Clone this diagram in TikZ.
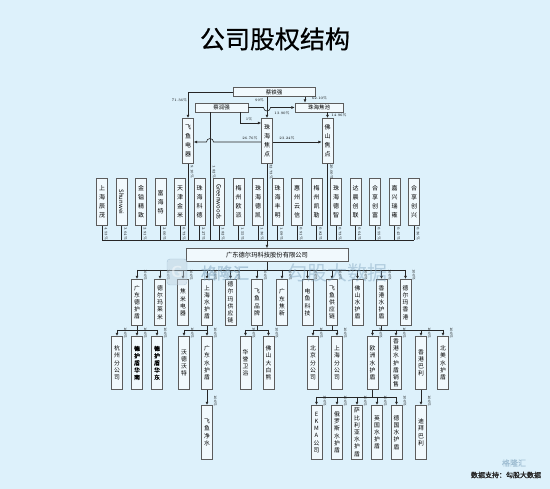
\documentclass[tikz,border=0pt]{standalone}
\usepackage{fontspec}
\newfontfamily\cjk{Noto Sans CJK SC}
\newfontfamily\cjkb[FakeBold=1.5]{Noto Sans CJK SC}
\newfontfamily\cjkt[FakeBold=0.6]{Noto Sans CJK SC}
\usetikzlibrary{arrows.meta,positioning,calc}
\definecolor{pagebg}{HTML}{DDF1FB}
\definecolor{boxbg}{HTML}{F1F9FD}
\definecolor{boxline}{HTML}{5C5C5C}
\definecolor{wmark}{HTML}{7FA3BD}

\begin{document}
\begin{tikzpicture}[x=1pt,y=-1pt,
  hbox/.style={draw=boxline,fill=boxbg,line width=0.8pt,inner sep=0pt,minimum height=9pt,font=\cjk\fontsize{5.5}{6}\selectfont},
  vbox/.style={draw=boxline,fill=boxbg,line width=0.8pt,inner sep=0.5pt,minimum width=11pt,anchor=north,align=center,font=\cjk\fontsize{5.8}{7.2}\selectfont},
  pct/.style={font=\fontsize{3.6}{4}\selectfont,inner sep=0pt},
  vpct/.style={pct,rotate=-90},
  link/.style={draw=black!85,line width=0.6pt},
  arr/.style={link,-{Latex[length=3.2pt,width=3pt]}}]
\path[use as bounding box,fill=pagebg] (0,0) rectangle (550,489);

\node[font=\cjkt\fontsize{25}{25}\selectfont] (title) at (275,39) {公司股权结构};

% top holders
\node[hbox,minimum width=82pt] (ctq) at (274,92) {蔡铁强};
\node[hbox,minimum width=53pt] (crq) at (221.5,107.5) {蔡润强};
\node[hbox,minimum width=48pt] (zhjc) at (319,107.5) {珠海焦池};
\node[vbox,minimum height=45pt,font=\cjk\fontsize{6}{9}\selectfont] (fydq) at (188,118) {飞\\鱼\\电\\器};
\node[vbox,minimum height=45pt,font=\cjk\fontsize{6}{9}\selectfont] (zhjd) at (267,118) {珠\\海\\焦\\点};
\node[vbox,minimum height=45pt,font=\cjk\fontsize{6}{9}\selectfont] (fsjd) at (327.5,118) {佛\\山\\焦\\点};
\coordinate (crqdrop) at ($(crq.south)+(-11.5,0)$);
\coordinate (mid) at ($(zhjd.north west)+(0,24)$);
\coordinate (c62) at ($(zhjc.north)+(-14,0)$);

\draw[arr] (ctq.west) -| (fydq.north);
\node[pct] (l1) at (179.5,100) {71.36\%};
\draw[arr] (ctq.south -| zhjd.north) -- (zhjd.north);
\node[pct] (l2) at (259.5,100) {99\%};
\draw[arr] (c62 |- ctq.south) -- (c62);
\node[pct] (l3) at (319.5,98) {62.10\%};
\draw[arr] (crq.east) -- ($(crq.east -| zhjd.north)+(-3.5,0)$) arc[start angle=180,end angle=0,radius=3.5] -- (zhjc.west);
\node[pct] (l4) at (282,113) {13.90\%};
\draw[arr] ($(crq.south)+(18.5,0)$) |- ($(zhjd.north west)+(0,5)$);
\node[pct] (l5) at (249,119) {1\%};
\draw[arr] (mid) -- ($(mid -| crqdrop)+(3.5,0)$) arc[start angle=0,end angle=-180,radius=3.5] -- (mid -| fydq.east);
\node[pct] (l6) at (250,138) {26.76\%};
\draw[arr] (mid -| zhjd.east) -- (mid -| fsjd.west);
\node[pct] (l7) at (287,138) {23.24\%};
\draw[arr] (zhjc.south -| fsjd.north) -- (fsjd.north);
\node[pct] (l8) at (339,115) {14.96\%};

% shareholders of the company
\coordinate (bus1) at (0,240);
\foreach \txt/\val [count=\k] in {{上\\海\\辰\\茂}/4.53\%,{\rotatebox{-90}{Shunwei}}/3.64\%,{金\\镒\\精\\致}/2.91\%,{富\\海\\特}/2.00\%,
    {天\\津\\金\\米}/6.73\%,{珠\\海\\科\\德}/2.27\%,{\rotatebox{-90}{Greenwoods}}/1.82\%,{梅\\州\\欧\\派}/1.55\%,
    {珠\\海\\德\\凯}/1.36\%,{珠\\海\\丰\\明}/1.09\%,{惠\\州\\云\\信}/0.91\%,{梅\\州\\凯\\勒}/0.82\%,
    {珠\\海\\德\\智}/0.73\%,{达\\晨\\创\\联}/0.64\%,{合\\享\\创\\富}/0.55\%,{嘉\\兴\\瑞\\雍}/0.45\%,{合\\享\\创\\兴}/0.36\%}{
  \node[vbox,minimum height=47pt,font=\cjk\fontsize{6}{9}\selectfont] (sh\k) at ({102+19.5*(\k-1)},178) {\txt};
  \draw[link] (sh\k.south) -- (sh\k.south |- bus1);
  \node[vpct] at ($(sh\k.south)+(4,8)$) {\val};
}
\draw[link] (sh1.south |- bus1) -- (sh17.south |- bus1);
\draw[link] (fydq.south) -- (fydq.south |- bus1);
\draw[link] (crqdrop) -- (crqdrop |- bus1);
\draw[link] (fsjd.south) -- (fsjd.south |- bus1);
\node[vpct] at ($(fydq.south)+(4,8)$) {9.10\%};
\node[vpct] at ($(crqdrop |- fydq.south)+(4,8)$) {1.82\%};
\node[vpct] at ($(zhjd.south)+(4,8)$) {32.73\%};
\node[vpct] at ($(fsjd.south)+(4,8)$) {20.00\%};

% the company
\node[hbox,minimum width=162pt,minimum height=13pt,font=\cjk\fontsize{6.3}{7}\selectfont] (comp) at (267,255) {广东德尔玛科技股份有限公司};
\draw[arr] (zhjd.south) -- (comp.north);

% subsidiaries
\coordinate (bus2) at (0,270);
\draw[link] (comp.south) -- (comp.south |- bus2);
\foreach \xx/\txt [count=\k] in {137/{广\\东\\德\\护\\盾},160/{德\\尔\\玛\\莱\\米},183/{焦\\米\\电\\器},207/{上\\海\\水\\护\\盾},
    230.5/{德\\尔\\玛\\供\\应\\链},257/{飞\\鱼\\品\\牌},282/{广\\东\\焦\\新},307.5/{电\\鱼\\科\\技},
    332/{飞\\鱼\\供\\应\\链},357.5/{佛\\山\\水\\护\\盾},381.5/{香\\港\\水\\护\\盾},405.5/{德\\尔\\玛\\香\\港}}{
  \node[vbox,minimum height=46pt] (sub\k) at (\xx,279) {\txt};
  \draw[arr] (sub\k.north |- bus2) -- (sub\k.north);
  \node[vpct] at ($(sub\k.north east)+(2.5,-4)$) {100\%};
}
\draw[link] (sub1.north |- bus2) -- (sub12.north |- bus2);

% second level
\coordinate (bus3) at (0,330);
\foreach \xx/\txt/\ff [count=\k] in {117/{杭\\州\\分\\公\\司}/\cjk,137/{德\\护\\盾\\华\\南}/\cjkb,157/{德\\护\\盾\\华\\东}/\cjkb,
    184/{沃\\德\\沃\\特}/\cjk,207/{广\\东\\水\\护\\盾}/\cjk,245.5/{华\\誉\\卫\\浴}/\cjk,268.5/{佛\\山\\大\\白\\熊}/\cjk,
    313/{北\\京\\分\\公\\司}/\cjk,337/{上\\海\\分\\公\\司}/\cjk,372.5/{欧\\洲\\水\\护\\盾}/\cjk,
    396/{香\\港\\水\\护\\盾\\销\\售}/\cjk,421/{香\\港\\巴\\利}/\cjk,443/{北\\美\\水\\护\\盾}/\cjk}{
  \node[vbox,minimum height=53pt,font=\ff\fontsize{5.8}{7.2}\selectfont] (sec\k) at (\xx,336) {\txt};
  \draw[arr] (sec\k.north |- bus3) -- (sec\k.north);
  \node[vpct] at ($(sec\k.north east)+(2.5,-3)$) {100\%};
}
\foreach \p/\a/\b in {1/1/3,4/4/5,6/6/7,9/8/9,11/10/13}{
  \draw[link] (sub\p.south) -- (sub\p.south |- bus3);
  \draw[link] (sec\a.north |- bus3) -- (sec\b.north |- bus3);
}

% third level
\coordinate (bus4) at (0,397);
\foreach \xx/\txt [count=\k] in {207/{飞\\鱼\\净\\水},316.5/{E\\K\\M\\A\\公\\司},337/{俄\\罗\\斯\\水\\护\\盾},
    357/{萨\\比\\利\\亚\\水\\护\\盾},377/{英\\国\\水\\护\\盾},396.5/{德\\国\\水\\护\\盾},421/{迪\\拜\\巴\\利}}{
  \node[vbox,minimum height=54pt] (thd\k) at (\xx,405) {\txt};
  \node[vpct] at ($(thd\k.north east)+(2.5,-4)$) {100\%};
}
\draw[arr] (sec5.south) -- (thd1.north);
\draw[arr] (sec12.south) -- (thd7.north);
\draw[link] (sec10.south) -- (sec10.south |- bus4);
\draw[link] (thd2.north |- bus4) -- (thd6.north |- bus4);
\foreach \k in {2,...,6}
  \draw[arr] (thd\k.north |- bus4) -- (thd\k.north);

% watermark and source
\begin{scope}[opacity=0.45]
\node[draw=wmark,fill=wmark!50,rounded corners=3pt,minimum width=20pt,minimum height=26pt,text=white,font=\sffamily\bfseries\fontsize{16}{16}\selectfont] (wlogo) at (177,272) {G};
\node[text=wmark,font=\cjkb\fontsize{16}{16}\selectfont] (wname) at (225,273) {格隆汇};
\node[text=wmark,font=\cjk\fontsize{20}{20}\selectfont] (wdata) at (337,273) {勾股大数据};
\node[text=wmark,font=\cjkb\fontsize{8}{8}\selectfont] (wsmall) at (514,463) {格隆汇};
\end{scope}
\node[font=\cjkb\fontsize{7}{7}\selectfont,text=black!85] (src) at (506,475) {数据支持：勾股大数据};
\end{tikzpicture}
\end{document}
